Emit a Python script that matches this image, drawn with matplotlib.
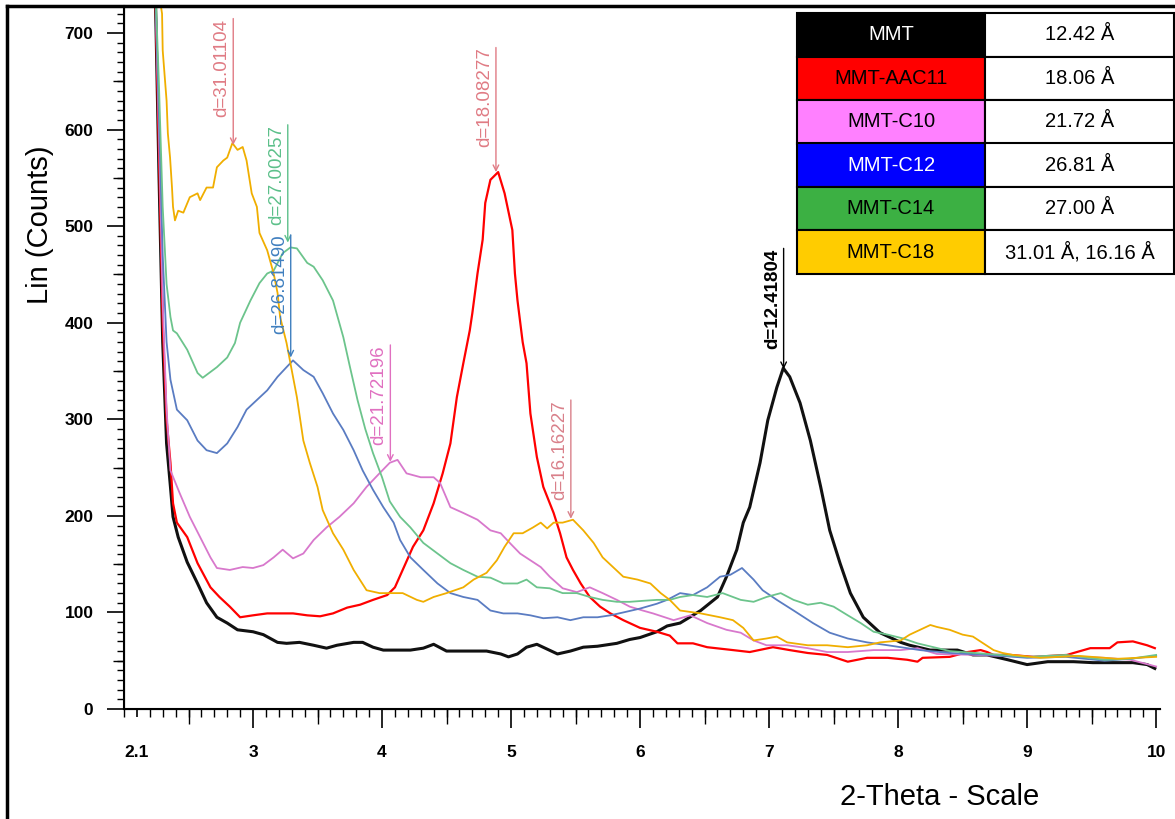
import numpy as np
import matplotlib.pyplot as plt
from matplotlib.lines import Line2D
from matplotlib.ticker import MultipleLocator, NullFormatter

plt.rcParams['font.family'] = ['Liberation Sans', 'DejaVu Sans']

# --- courbes DRX (2-theta, counts) ---
mmt_x = [2.24, 2.27, 2.30, 2.33, 2.36, 2.38, 2.42, 2.49, 2.57, 2.64, 2.72, 2.80, 2.88, 3.00, 3.08,
         3.19, 3.26, 3.36, 3.47, 3.57, 3.65, 3.78, 3.85, 3.93, 4.01, 4.14, 4.22, 4.32, 4.40, 4.50,
         4.66, 4.81, 4.92, 4.98, 5.05, 5.12, 5.20, 5.28, 5.36, 5.46, 5.56, 5.67, 5.82, 5.92, 6.00,
         6.13, 6.21, 6.31, 6.47, 6.60, 6.67, 6.75, 6.80, 6.85, 6.93, 6.99, 7.06, 7.11, 7.16, 7.24,
         7.32, 7.40, 7.47, 7.55, 7.63, 7.73, 7.86, 8.02, 8.09, 8.25, 8.46, 8.58, 8.69, 8.85, 9.00,
         9.16, 9.36, 9.51, 9.67, 9.82, 9.93, 9.99]
mmt_y = [760, 560, 380, 275, 230, 199, 178, 152, 130, 110, 95, 89, 82, 80, 77,
         69, 68, 69, 66, 63, 66, 69, 69, 64, 61, 61, 61, 63, 67, 60,
         60, 60, 57, 54, 57, 64, 67, 62, 57, 60, 64, 65, 68, 72, 74,
         80, 86, 89, 102, 116, 137, 165, 193, 209, 255, 299, 333, 353, 344, 317,
         278, 230, 185, 151, 120, 95, 79, 69, 66, 61, 61, 56, 56, 51, 46,
         49, 49, 48, 48, 48, 46, 42]

aac11_x = [2.24, 2.27, 2.30, 2.33, 2.36, 2.38, 2.41, 2.49, 2.57, 2.67, 2.74, 2.82, 2.90, 3.00, 3.11,
           3.21, 3.31, 3.42, 3.52, 3.62, 3.73, 3.83, 3.93, 4.04, 4.10, 4.16, 4.24, 4.32, 4.40, 4.47,
           4.53, 4.58, 4.63, 4.68, 4.70, 4.74, 4.78, 4.80, 4.84, 4.90, 4.95, 5.01, 5.03, 5.05, 5.09,
           5.12, 5.15, 5.20, 5.25, 5.33, 5.38, 5.43, 5.48, 5.54, 5.61, 5.69, 5.77, 5.87, 6.00, 6.13,
           6.23, 6.29, 6.41, 6.52, 6.72, 6.85, 7.03, 7.16, 7.30, 7.45, 7.61, 7.76, 7.92, 8.07, 8.15,
           8.19, 8.40, 8.54, 8.64, 8.69, 8.74, 8.87, 9.05, 9.31, 9.36, 9.49, 9.64, 9.70, 9.82, 9.93, 9.99]
aac11_y = [760, 580, 400, 300, 255, 213, 193, 178, 151, 126, 116, 106, 95, 97, 99,
           99, 99, 97, 96, 99, 105, 108, 113, 118, 126, 144, 168, 185, 213, 244,
           275, 323, 358, 392, 410, 451, 486, 524, 548, 556, 534, 496, 451, 423, 380,
           358, 306, 261, 230, 203, 182, 157, 144, 130, 116, 106, 99, 92, 84, 80,
           76, 68, 68, 64, 61, 59, 64, 61, 58, 56, 49, 53, 53, 51, 49,
           53, 54, 59, 61, 59, 56, 56, 54, 56, 58, 63, 63, 69, 70, 66, 63]

c10_x = [2.24, 2.27, 2.30, 2.33, 2.36, 2.43, 2.51, 2.59, 2.67, 2.72, 2.82, 2.92, 3.00, 3.08, 3.16,
         3.23, 3.31, 3.39, 3.47, 3.57, 3.67, 3.78, 3.88, 3.98, 4.06, 4.12, 4.19, 4.30, 4.40, 4.45,
         4.53, 4.63, 4.74, 4.84, 4.92, 4.99, 5.07, 5.15, 5.23, 5.30, 5.40, 5.51, 5.61, 5.71, 5.82,
         5.92, 6.02, 6.10, 6.26, 6.39, 6.52, 6.67, 6.78, 6.88, 6.98, 7.14, 7.30, 7.45, 7.61, 7.81,
         8.02, 8.15, 8.30, 8.60, 9.00, 9.30, 9.60, 9.80, 10.0]
c10_y = [760, 600, 420, 310, 247, 224, 199, 178, 157, 146, 144, 147, 146, 149, 157,
         165, 156, 161, 175, 188, 199, 213, 230, 244, 255, 258, 244, 240, 240, 234,
         209, 203, 196, 185, 182, 172, 161, 154, 147, 137, 125, 121, 126, 120, 113,
         106, 102, 99, 92, 97, 89, 82, 79, 71, 66, 66, 63, 59, 59, 61,
         61, 63, 57, 56, 54, 55, 53, 51, 44]

c12_x = [2.24, 2.27, 2.30, 2.33, 2.36, 2.41, 2.49, 2.57, 2.64, 2.72, 2.80, 2.88, 2.95, 3.03, 3.11,
         3.19, 3.26, 3.31, 3.39, 3.47, 3.54, 3.62, 3.70, 3.78, 3.85, 3.93, 4.01, 4.09, 4.14, 4.22,
         4.32, 4.43, 4.53, 4.63, 4.74, 4.84, 4.94, 5.05, 5.15, 5.25, 5.36, 5.46, 5.56, 5.67, 5.77,
         5.87, 6.00, 6.13, 6.21, 6.31, 6.41, 6.52, 6.62, 6.70, 6.79, 6.88, 6.95, 7.06, 7.19, 7.34,
         7.47, 7.61, 7.76, 7.92, 8.07, 8.17, 8.40, 8.70, 9.00, 9.30, 9.60, 9.80, 10.0]
c12_y = [760, 620, 470, 380, 341, 310, 299, 278, 268, 265, 275, 292, 310, 320, 330,
         344, 354, 361, 351, 344, 327, 306, 289, 268, 247, 227, 209, 193, 175, 157,
         144, 130, 120, 116, 113, 102, 99, 99, 97, 94, 95, 92, 95, 95, 97,
         100, 104, 109, 113, 120, 118, 126, 137, 139, 146, 134, 123, 113, 102, 89,
         79, 73, 69, 66, 63, 61, 58, 56, 53, 54, 50, 52, 55]

c14_x = [2.24, 2.27, 2.30, 2.33, 2.36, 2.38, 2.41, 2.49, 2.57, 2.61, 2.67, 2.72, 2.80, 2.86, 2.90,
         2.98, 3.05, 3.11, 3.16, 3.23, 3.29, 3.34, 3.42, 3.47, 3.54, 3.62, 3.70, 3.75, 3.81, 3.87,
         3.93, 4.00, 4.06, 4.14, 4.22, 4.32, 4.43, 4.53, 4.63, 4.74, 4.84, 4.94, 5.05, 5.12, 5.20,
         5.30, 5.40, 5.51, 5.61, 5.71, 5.82, 5.92, 6.02, 6.13, 6.23, 6.31, 6.41, 6.52, 6.64, 6.78,
         6.88, 6.98, 7.09, 7.19, 7.30, 7.40, 7.50, 7.61, 7.71, 7.81, 7.92, 8.04, 8.15, 8.40, 8.70,
         9.00, 9.30, 9.60, 9.80, 10.0]
c14_y = [760, 650, 520, 440, 406, 392, 389, 372, 348, 343, 349, 354, 364, 379, 400,
         423, 441, 451, 454, 472, 478, 477, 462, 458, 444, 423, 385, 355, 320, 290,
         265, 240, 215, 199, 188, 172, 161, 151, 144, 137, 136, 130, 130, 134, 126,
         125, 120, 120, 116, 113, 111, 111, 112, 113, 113, 116, 118, 116, 120, 113,
         111, 116, 120, 113, 108, 110, 106, 97, 89, 80, 77, 73, 68, 60, 57,
         54, 56, 51, 52, 56]

c18_x = [2.25, 2.295, 2.30, 2.33, 2.34, 2.357, 2.372, 2.38, 2.395, 2.42, 2.46, 2.51, 2.57, 2.59, 2.64,
         2.69, 2.72, 2.77, 2.80, 2.84, 2.88, 2.92, 2.95, 2.99, 3.03, 3.05, 3.11, 3.16, 3.19, 3.21,
         3.26, 3.29, 3.34, 3.39, 3.44, 3.50, 3.54, 3.62, 3.70, 3.78, 3.88, 3.98, 4.09, 4.16, 4.27,
         4.32, 4.40, 4.50, 4.63, 4.71, 4.81, 4.89, 4.95, 5.02, 5.09, 5.17, 5.23, 5.28, 5.33, 5.40,
         5.48, 5.56, 5.64, 5.71, 5.79, 5.87, 5.98, 6.08, 6.16, 6.23, 6.31, 6.47, 6.62, 6.72, 6.80,
         6.88, 6.98, 7.06, 7.14, 7.30, 7.45, 7.61, 7.76, 7.86, 8.02, 8.09, 8.17, 8.25, 8.30, 8.40,
         8.50, 8.58, 8.66, 8.74, 8.81, 8.89, 9.10, 9.40, 9.70, 10.0]
c18_y = [760, 720, 682, 630, 596, 571, 540, 520, 506, 516, 514, 530, 534, 527, 540,
         540, 561, 568, 571, 586, 579, 582, 568, 534, 520, 493, 475, 451, 431, 406,
         379, 358, 323, 278, 255, 230, 206, 182, 165, 144, 123, 120, 120, 120, 113,
         111, 116, 120, 126, 134, 141, 154, 168, 182, 182, 188, 193, 187, 193, 193,
         196, 185, 172, 157, 147, 137, 134, 130, 120, 113, 102, 99, 95, 92, 84,
         71, 73, 75, 69, 66, 66, 64, 66, 69, 71, 77, 82, 87, 85, 82,
         77, 75, 68, 61, 58, 56, 53, 55, 52, 54]

series = [
    (mmt_x, mmt_y, '#111111', 2.2),
    (aac11_x, aac11_y, '#ff0000', 1.6),
    (c10_x, c10_y, '#d878cc', 1.3),
    (c12_x, c12_y, '#5a7cc2', 1.3),
    (c14_x, c14_y, '#6cc48c', 1.3),
    (c18_x, c18_y, '#f0ae00', 1.3),
]

# --- distances basales annotées ---
d_values = [31.01104, 27.00257, 26.81490, 21.72196, 18.08277, 16.16227, 12.41804]
d_tip = [584, 483, 364, 256, 556, 197, 352]
d_top = [715, 605, 491, 377, 685, 320, 477]
d_colors = ['#e07b84', '#5cc08a', '#3f7fbf', '#e070c0', '#e07b84', '#d9808a', '#000000']
wavelength = 1.5406

# --- tableau ---
table_names = ['MMT', 'MMT-AAC11', 'MMT-C10', 'MMT-C12', 'MMT-C14', 'MMT-C18']
table_vals = ['12.42 Å', '18.06 Å', '21.72 Å', '26.81 Å', '27.00 Å', '31.01 Å, 16.16 Å']
table_fill = ['#000000', '#ff0000', '#ff80ff', '#0000ff', '#3cb043', '#ffcc00']
table_txt = ['white', 'black', 'black', 'white', 'black', 'black']

W, H = 1175, 819
fig = plt.figure(figsize=(W / 100, H / 100), dpi=100)
ax = fig.add_axes([124 / W, 1 - 709 / H, (1160 - 124) / W, (709 - 6) / H])

for x, y, c, lw in series:
    ax.plot(x, y, color=c, lw=lw)

ax.set_xlim(2.0, 10.03)
ax.set_ylim(0, 728)

for d, tip, top, c in zip(d_values, d_tip, d_top, d_colors):
    tt = 2 * np.degrees(np.arcsin(wavelength / (2 * d)))
    ax.annotate('', xy=(tt, tip), xytext=(tt, top),
                arrowprops=dict(arrowstyle='->', color=c, lw=1.0, shrinkA=0, shrinkB=0))
    bold = 'bold' if c == '#000000' else 'normal'
    ax.annotate('d=%.5f' % d, xy=(tt, top), xytext=(-2, 0), textcoords='offset points',
                rotation=90, ha='right', va='top', color=c, fontsize=13.5, fontweight=bold)

for s in ['top', 'right']:
    ax.spines[s].set_visible(False)
ax.spines['left'].set_linewidth(1.5)
ax.spines['bottom'].set_linewidth(1.5)

ax.set_yticks(np.arange(0, 701, 100))
ax.yaxis.set_minor_locator(MultipleLocator(10))
ax.set_xticks([2.1, 3, 4, 5, 6, 7, 8, 9, 10])
ax.set_xticklabels(['2.1', '3', '4', '5', '6', '7', '8', '9', '10'])
ax.xaxis.set_minor_locator(MultipleLocator(0.1))
ax.tick_params(axis='y', which='major', length=12, width=1.2, pad=10, labelsize=12.5)
ax.tick_params(axis='y', which='minor', length=5, width=1.0)
ax.tick_params(axis='x', which='major', length=13.5, width=1.2, pad=12.5, labelsize=12.5)
ax.tick_params(axis='x', which='minor', length=6, width=1.0)
ax.xaxis.get_major_ticks()[0].tick1line.set_markersize(6)
for lab in ax.get_xticklabels() + ax.get_yticklabels():
    lab.set_fontweight('bold')

# graduations intermédiaires (50 / 0.5)
sy = ax.secondary_yaxis('left')
sy.set_yticks(np.arange(50, 701, 100))
sy.yaxis.set_major_formatter(NullFormatter())
sy.tick_params(length=8, width=1.0)
sx = ax.secondary_xaxis('bottom')
sx.set_xticks(np.arange(2.5, 10, 1.0))
sx.xaxis.set_major_formatter(NullFormatter())
sx.tick_params(length=10.5, width=1.0)

fig.text(40 / W, 1 - 225 / H, 'Lin (Counts)', rotation=90, fontsize=21, ha='center', va='center')
fig.text(940 / W, 1 - 797 / H, '2-Theta - Scale', fontsize=21, ha='center', va='center')

# tableau en haut à droite
tax = fig.add_axes([797 / W, 1 - 274 / H, 377 / W, 261 / H])
tax.axis('off')
cells = [[n, v] for n, v in zip(table_names, table_vals)]
colours = [[f, 'white'] for f in table_fill]
tab = tax.table(cellText=cells, cellColours=colours, cellLoc='center', bbox=[0, 0, 1, 1],
                colWidths=[188 / 377, 189 / 377])
tab.auto_set_font_size(False)
tab.set_fontsize(14.5)
for i, tc in enumerate(table_txt):
    tab[(i, 0)].get_text().set_color(tc)
for cell in tab.get_celld().values():
    cell.set_linewidth(1.5)

# cadre de la figure
fig.add_artist(Line2D([7 / W, 7 / W], [0, 1 - 6 / H], color='black', lw=2.5, transform=fig.transFigure))
fig.add_artist(Line2D([7 / W, 1], [1 - 6 / H, 1 - 6 / H], color='black', lw=2.5, transform=fig.transFigure))

fig.savefig('out.png', dpi=100)
